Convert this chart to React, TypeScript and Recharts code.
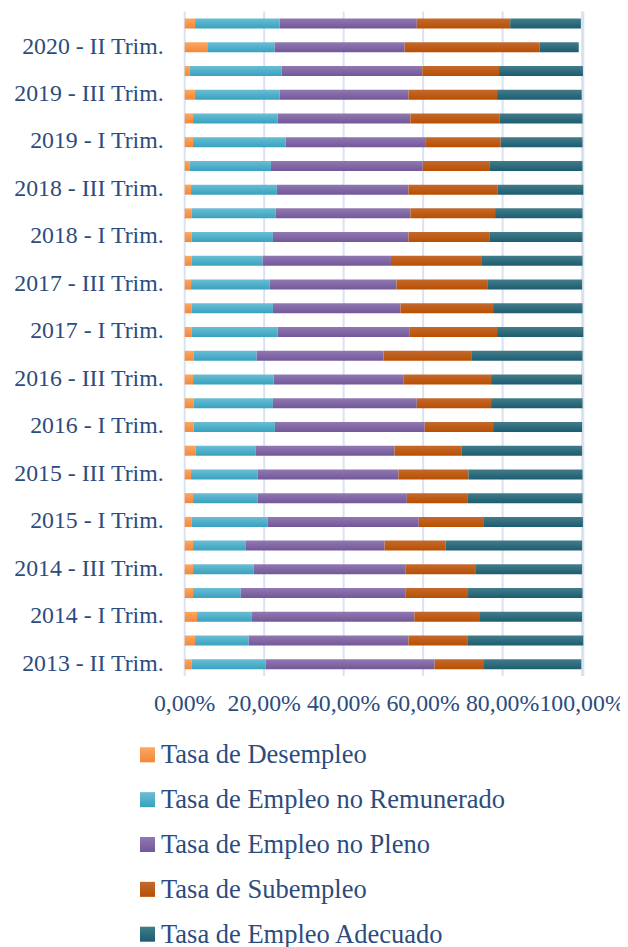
import React from "react";
import { BarChart, Bar, XAxis, YAxis, CartesianGrid, Legend } from "recharts";

const categories = [
  "2013 - II Trim.", "2013 - IV Trim.", "2014 - I Trim.", "2014 - II Trim.", "2014 - III Trim.",
  "2014 - IV Trim.", "2015 - I Trim.", "2015 - II Trim.", "2015 - III Trim.", "2015 - IV Trim.",
  "2016 - I Trim.", "2016 - II Trim.", "2016 - III Trim.", "2016 - IV Trim.", "2017 - I Trim.",
  "2017 - II Trim.", "2017 - III Trim.", "2017 - IV Trim.", "2018 - I Trim.", "2018 - II Trim.",
  "2018 - III Trim.", "2018 - IV Trim.", "2019 - I Trim.", "2019 - II Trim.", "2019 - III Trim.",
  "2019 - IV Trim.", "2020 - II Trim.", "2020 - III Trim.",
];

const desempleo = [1.8, 2.6, 3.1, 2.1, 2.1, 2.1, 1.8, 2.1, 1.6, 2.8, 2.3, 2.3, 2.1, 2.3, 1.8, 1.8, 1.6, 1.8, 1.8, 1.8, 1.6, 1.3, 2.1, 2.1, 2.6, 1.3, 5.85, 2.6];
const noRemunerado = [18.6, 13.5, 13.8, 12.0, 15.3, 13.3, 19.1, 16.3, 16.8, 15.1, 20.4, 19.9, 20.3, 15.8, 21.6, 20.4, 19.8, 17.8, 20.4, 21.1, 21.6, 20.4, 23.3, 21.3, 21.3, 23.1, 16.8, 21.3];
const noPleno = [42.5, 40.2, 40.9, 41.4, 38.1, 34.9, 38.0, 37.5, 35.4, 34.9, 37.7, 36.2, 32.6, 31.9, 33.1, 32.1, 31.9, 32.3, 34.1, 33.9, 33.1, 38.2, 35.1, 33.4, 32.4, 35.4, 32.7, 34.5];
const subempleo = [12.2, 14.8, 16.3, 15.8, 17.6, 15.3, 16.4, 15.2, 17.6, 16.8, 17.2, 18.7, 22.1, 22.1, 22.1, 23.3, 23.0, 22.9, 20.5, 21.3, 22.5, 16.9, 19.0, 22.5, 22.3, 19.3, 34.0, 23.5];
const adecuado = [24.7, 29.2, 25.9, 28.8, 26.9, 34.4, 24.9, 29.0, 28.7, 30.4, 22.4, 23.0, 22.9, 28.0, 21.7, 22.5, 23.7, 25.3, 23.3, 22.0, 21.5, 23.3, 20.6, 20.8, 21.3, 21.1, 9.8, 17.8];

const xTicks = [0, 20, 40, 60, 80, 100];

const seriesNames = [
  "Tasa de Desempleo",
  "Tasa de Empleo no Remunerado",
  "Tasa de Empleo no Pleno",
  "Tasa de Subempleo",
  "Tasa de Empleo Adecuado",
];

const series = [
  { key: "desempleo", name: seriesNames[0], top: "#FCA75F", bottom: "#F3873A", id: "gDes" },
  { key: "noRemunerado", name: seriesNames[1], top: "#6ABDD4", bottom: "#38A2BF", id: "gRem" },
  { key: "noPleno", name: seriesNames[2], top: "#9079B1", bottom: "#735799", id: "gPle" },
  { key: "subempleo", name: seriesNames[3], top: "#C4692F", bottom: "#B84F00", id: "gSub" },
  { key: "adecuado", name: seriesNames[4], top: "#437C8A", bottom: "#1B5D70", id: "gAde" },
];

const data = categories.map((cat, i) => ({
  cat,
  desempleo: desempleo[i],
  noRemunerado: noRemunerado[i],
  noPleno: noPleno[i],
  subempleo: subempleo[i],
  adecuado: adecuado[i],
}));

const TEXT = "#2C4C7E";
const FONT = '"Liberation Serif", "Times New Roman", serif';

const fmt = (v: number) => v.toFixed(2).replace(".", ",") + "%";

const renderLegend = () => (
  <div style={{ width: 620, height: 236 }}>
    <svg width={620} height={236} style={{ display: "block", overflow: "visible" }}>
      {series.map((s, i) => (
        <g key={s.key}>
          <rect x={132} y={36.3 + i * 44.85} width={15} height={15} fill={`url(#${s.id})`} />
          <text x={153} y={52.3 + i * 44.85} fill={TEXT} fontSize={26.5} fontFamily={FONT}>
            {s.name}
          </text>
        </g>
      ))}
      <defs>
        {series.map((s) => (
          <linearGradient key={s.id} id={s.id} x1="0" y1="0" x2="0" y2="1">
            <stop offset="0%" stopColor={s.top} />
            <stop offset="100%" stopColor={s.bottom} />
          </linearGradient>
        ))}
      </defs>
    </svg>
  </div>
);

export default function App() {
  return (
    <BarChart
      layout="vertical"
      width={620}
      height={939}
      data={data}
      margin={{ top: 3.5, right: 44.7, left: 0, bottom: 0 }}
      style={{ fontFamily: FONT }}
    >
      <defs>
        {series.map((s) => (
          <linearGradient key={s.id} id={s.id + "b"} x1="0" y1="0" x2="0" y2="1">
            <stop offset="0%" stopColor={s.top} />
            <stop offset="100%" stopColor={s.bottom} />
          </linearGradient>
        ))}
      </defs>
      <CartesianGrid horizontal={false} vertical={true} stroke="#D8E2F0" strokeWidth={2} />
      <XAxis
        type="number"
        domain={[0, 100]}
        ticks={xTicks}
        interval={0}
        tickFormatter={fmt}
        tickLine={false}
        axisLine={false}
        tickSize={0}
        tickMargin={18}
        height={35}
        tick={{ fill: TEXT, fontSize: 23.8, fontFamily: FONT }}
      />
      <YAxis
        type="category"
        dataKey="cat"
        reversed
        interval={1}
        width={176.7}
        tickLine={false}
        axisLine={false}
        tickSize={0}
        tickMargin={21}
        tick={{ fill: TEXT, fontSize: 23.8, fontFamily: FONT, dy: -2 }}
      />
      {series.map((s) => (
        <Bar
          key={s.key}
          dataKey={s.key}
          name={s.name}
          stackId="a"
          barSize={10}
          fill={`url(#${s.id}b)`}
          isAnimationActive={false}
        />
      ))}
      <Legend
        verticalAlign="bottom"
        layout="horizontal"
        content={renderLegend}
        wrapperStyle={{ left: 0, width: 620, height: 236 }}
      />
    </BarChart>
  );
}
